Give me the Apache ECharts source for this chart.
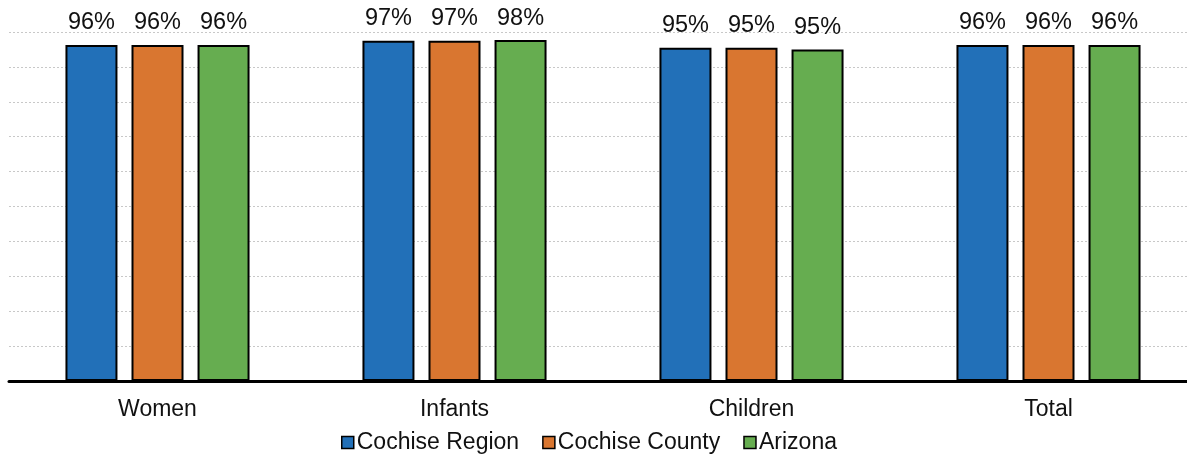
<!DOCTYPE html>
<html>
<head>
<meta charset="utf-8">
<script src="https://cdn.jsdelivr.net/npm/echarts@6/dist/echarts.min.js"></script>
<style>html,body{margin:0;padding:0;background:#fff;}#c{width:1187px;height:455px;}</style>
</head>
<body>
<div id="c"></div>
<script>
const categories = ['Women', 'Infants', 'Children', 'Total'];
const cochiseRegion = [96.3, 97.49, 95.49, 96.3];
const cochiseCounty = [96.3, 97.49, 95.49, 96.3];
const arizona = [96.3, 97.7, 95.0, 96.3];
const seriesNames = ['Cochise Region', 'Cochise County', 'Arizona'];
const colors = ['#2270B8', '#D97630', '#66AD50'];

const chart = echarts.init(document.getElementById('c'), null, {renderer: 'canvas'});
const font = '"Liberation Sans", Arial, sans-serif';
function mk(name, data, color) {
  return {
    name: name, type: 'bar', data: data,
    barWidth: 52, barGap: '27%',
    itemStyle: {color: color, borderColor: '#000', borderWidth: 2},
    label: {show: true, position: 'top', distance: 10, color: '#111', fontSize: 23.5, fontFamily: font,
      formatter: p => Math.round(p.value) + '%'}
  };
}
chart.setOption({
  animation: false,
  textStyle: {fontFamily: font},
  legend: {
    top: 426, left: 336, itemWidth: 12, itemHeight: 12, itemGap: 23,
    icon: 'rect',
    textStyle: {fontSize: 23, color: '#111', fontFamily: font, padding: [0, 0, 0, -2]},
    data: seriesNames.map(n => ({name: n, itemStyle: {borderColor: '#000', borderWidth: 1.5}}))
  },
  grid: {left: 9, top: 32, width: 1188, height: 349, containLabel: false, outerBoundsMode: 'none'},
  xAxis: {
    type: 'category', data: categories,
    axisLine: {show: true, lineStyle: {color: '#000', width: 3}},
    axisTick: {show: false},
    axisLabel: {fontSize: 23, color: '#111', margin: 17, fontFamily: font}
  },
  yAxis: {
    type: 'value', min: 0, max: 100, interval: 10,
    axisLabel: {show: false}, axisLine: {show: false}, axisTick: {show: false},
    splitLine: {show: true, lineStyle: {color: '#c8c8c8', type: [2, 2], width: 1}}
  },
  series: [mk(seriesNames[0], cochiseRegion, colors[0]), mk(seriesNames[1], cochiseCounty, colors[1]), mk(seriesNames[2], arizona, colors[2])]
});
</script>
</body>
</html>
